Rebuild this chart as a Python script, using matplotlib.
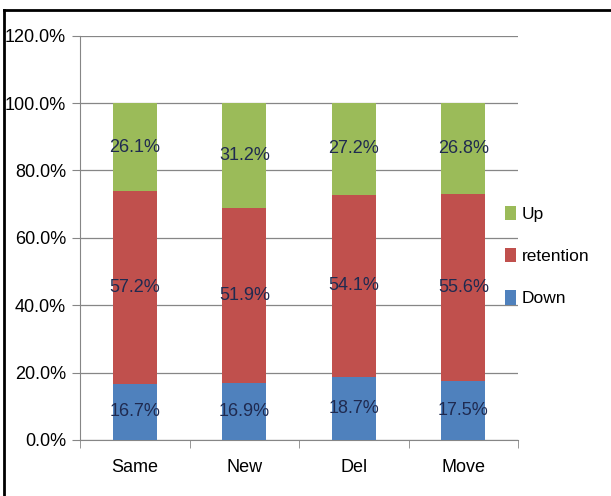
import matplotlib.pyplot as plt
import numpy as np
from matplotlib.lines import Line2D

categories = ["Same", "New", "Del", "Move"]
down = [16.7, 16.9, 18.7, 17.5]
retention = [57.2, 51.9, 54.1, 55.6]
up = [26.1, 31.2, 27.2, 26.8]

plt.rcParams['font.family'] = ['Liberation Sans', 'DejaVu Sans']

fig = plt.figure(figsize=(6.11, 4.96), dpi=100)
ax = fig.add_axes([0.131, 0.113, 0.717, 0.815])

x = np.arange(len(categories))
w = 0.4
series = [("Down", down, "#4F81BD"), ("retention", retention, "#C0504D"), ("Up", up, "#9BBB59")]
bottom = np.zeros(len(categories))
handles = []
for name, vals, col in series:
    vals = np.array(vals)
    b = ax.bar(x, vals, w, bottom=bottom, color=col, zorder=3, label=name)
    handles.append(b)
    for xi, v, bt in zip(x, vals, bottom):
        ax.text(xi, bt + v / 2, f"{v:.1f}%", ha="center", va="center",
                fontsize=13, color="#1F2A50", zorder=4)
    bottom = bottom + vals

ax.set_xlim(-0.5, len(categories) - 0.5)
ax.set_ylim(0, 120)
ax.set_yticks(np.arange(0, 121, 20))
ax.set_yticklabels([f"{t:.1f}%" for t in np.arange(0, 121, 20)], fontsize=13)
ax.yaxis.grid(True, color="#868686", linewidth=0.9, zorder=0)
ax.set_xticks(x)
ax.set_xticklabels(categories, fontsize=13)
ax.tick_params(axis="x", length=0, pad=14)
ax.tick_params(axis="y", length=6, direction="out", color="#868686", pad=4)
# category boundary ticks
ax.set_xticks(np.arange(-0.5, len(categories)), minor=True)
ax.tick_params(axis="x", which="minor", length=6, color="#868686")
for s in ["top", "right"]:
    ax.spines[s].set_visible(False)
ax.spines["left"].set_color("#868686")
ax.spines["bottom"].set_color("#868686")

ax.legend(handles=handles[::-1], loc="center left", bbox_to_anchor=(0.955, 0.455),
          frameon=False, fontsize=12.5, handlelength=0.6, handleheight=0.9,
          handletextpad=0.35, labelspacing=1.5, borderaxespad=0)

# outer frame
fig.add_artist(Line2D([4 / 611, 4 / 611], [0, 1 - 10 / 496], color="black", lw=2, transform=fig.transFigure))
fig.add_artist(Line2D([4 / 611, 1], [1 - 10 / 496, 1 - 10 / 496], color="black", lw=2, transform=fig.transFigure))

fig.savefig("out.png", dpi=100)
